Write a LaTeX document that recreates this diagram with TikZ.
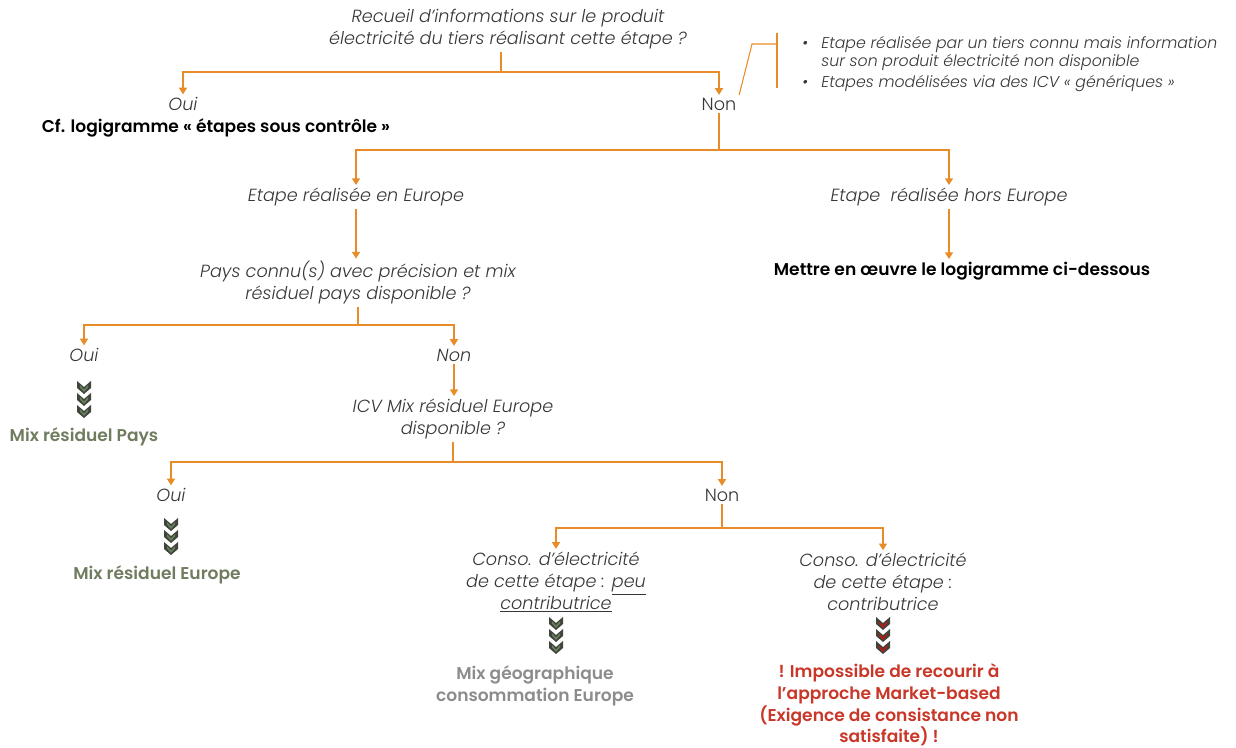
\documentclass[tikz,border=0pt]{standalone}
\usepackage{fontspec}
\setmainfont{Poppins}[UprightFont=* Light, ItalicFont=* Light Italic, BoldFont=* SemiBold]
\usetikzlibrary{arrows.meta}
\definecolor{arrc}{RGB}{232,140,40}
\definecolor{txt}{RGB}{55,55,55}
\definecolor{olive}{RGB}{112,124,96}
\definecolor{greyt}{RGB}{140,140,140}
\definecolor{redt}{RGB}{200,55,40}
\definecolor{chevd}{RGB}{62,70,58}
\definecolor{chevg}{RGB}{105,125,95}
\definecolor{chevr}{RGB}{185,25,25}
\tikzset{
  lbl/.style={font=\fontsize{13.2}{16.5}\selectfont\itshape, text=txt, align=center, inner sep=2pt},
  lblu/.style={font=\fontsize{13.2}{16.5}\selectfont, text=txt, align=center, inner sep=2pt},
  res/.style={font=\fontsize{12.8}{16.5}\selectfont\bfseries, align=center, inner sep=2pt},
  ln/.style={draw=arrc, line width=1.1pt},
  ar/.style={ln, -{Triangle[width=6pt,length=5pt]}},
}
\newcommand{\chevstack}[3]{% x, y top, inner colour
  \foreach \k in {0,1,2}{
    \fill[chevd] ({#1-7},{#2+\k*12}) -- ({#1},{#2+\k*12+6}) -- ({#1+7},{#2+\k*12}) -- ({#1+7},{#2+\k*12+7}) -- ({#1},{#2+\k*12+13}) -- ({#1-7},{#2+\k*12+7}) -- cycle;
    \fill[#3] ({#1-4},{#2+\k*12+4}) -- ({#1},{#2+\k*12+8.5}) -- ({#1+4},{#2+\k*12+4}) -- ({#1+4},{#2+\k*12+6.5}) -- ({#1},{#2+\k*12+11}) -- ({#1-4},{#2+\k*12+6.5}) -- cycle;
  }}
\begin{document}
\begin{tikzpicture}[x=0.75pt,y=-0.75pt]
\useasboundingbox (0,0) rectangle (1236,748);
% level 1
\node[lbl] (q1) at (508,29) {Recueil d'informations sur le produit\\électricité du tiers réalisant cette étape ?};
\coordinate (j1) at (501,72);
\node[lbl] (oui1) at (183,104) {Oui};
\node[lblu] (non1) at (719,104) {Non};
\node[res, text=black] (cf) at (216,128) {Cf. logigramme « étapes sous contrôle »};
\draw[ln] (q1.south -| j1) -- (j1);
\draw[ar] (j1) -| (oui1.north);
\draw[ar] (j1) -| (non1.north);
% bracket & notes
\coordinate (bk1) at (752,44);
\coordinate (bk2) at (777,44);
\coordinate (bt) at (777,33);
\coordinate (bb) at (777,88);
\draw[ln, line width=0.8pt] (non1.north east) -- (bk1) -- (bk2);
\draw[ln, line width=0.8pt] (bt) -- (bb);
\node[font=\fontsize{11.8}{14}\selectfont\itshape, text=txt, anchor=west, align=left, inner sep=0pt] (notes) at (802,64)
  {\begin{tabular}{@{}l@{\hspace{10pt}}l@{}}•&Etape réalisée par un tiers connu mais information\\&sur son produit électricité non disponible\\[1.5pt]•&Etapes modélisées via des ICV « génériques »\end{tabular}};
% level 2
\coordinate (j2) at (719,150);
\node[lbl] (eu) at (356,197) {Etape réalisée en Europe};
\node[lbl] (heu) at (949,197) {Etape\ \ réalisée hors Europe};
\draw[ln] (non1.south) -- (j2);
\draw[ar] (j2) -| (eu.north);
\draw[ar] (j2) -| (heu.north);
\node[res, text=black] (mettre) at (962,271) {Mettre en œuvre le logigramme ci-dessous};
\draw[ar] (heu.south) -- (heu.south |- mettre.north);
% level 3
\node[lbl] (q2) at (358,283) {Pays connu(s) avec précision et mix\\résiduel pays disponible ?};
\draw[ar] (eu.south) -- (eu.south |- q2.north);
\coordinate (j3) at (358,325);
\node[lbl] (oui2) at (84,355) {Oui};
\node[lbl] (non2) at (454,355) {Non};
\draw[ln] (q2.south) -- (j3);
\draw[ar] (j3) -| (oui2.north);
\draw[ar] (j3) -| (non2.north);
\chevstack{84}{381}{chevg}
\node[res, text=olive] (mrp) at (84,437) {Mix résiduel Pays};
% level 4
\node[lbl] (q3) at (453,419) {ICV Mix résiduel Europe\\disponible ?};
\draw[ar] (non2.south) -- (non2.south |- q3.north);
\coordinate (j4) at (453,462);
\node[lbl] (oui3) at (171,495) {Oui};
\node[lblu] (non3) at (722,495) {Non};
\draw[ln] (q3.south) -- (j4);
\draw[ar] (j4) -| (oui3.north);
\draw[ar] (j4) -| (non3.north);
\chevstack{171}{518}{chevg}
\node[res, text=olive] (mre) at (157,575) {Mix résiduel Europe};
% level 5
\coordinate (j5) at (722,528);
\node[lbl] (c1) at (556,582) {Conso. d'électricité\\de cette étape : \underline{peu}\\\underline{contributrice}};
\node[lbl] (c2) at (883,582) {Conso. d'électricité\\de cette étape :\\contributrice};
\draw[ln] (non3.south) -- (j5);
\draw[ar] (j5) -| (c1.north);
\draw[ar] (j5) -| (c2.north);
\chevstack{556}{617}{chevg}
\chevstack{883}{617}{chevr}
\node[res, text=greyt] (mg) at (535,686) {Mix géographique\\consommation Europe};
\node[res, text=redt, font=\fontsize{12.8}{16.2}\selectfont\bfseries, inner sep=0pt] (imp) at (889,705) {! Impossible de recourir à\\l'approche Market-based\\(Exigence de consistance non\\satisfaite) !};
\end{tikzpicture}
\end{document}
